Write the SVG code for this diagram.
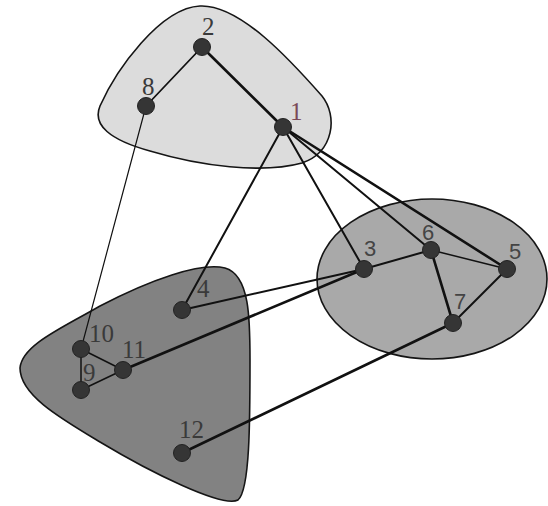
<svg xmlns="http://www.w3.org/2000/svg" width="548" height="506" viewBox="0 0 548 506">
<style>
.region{stroke:#151515;stroke-width:1.6}
.e{stroke:#111;fill:none;stroke-linecap:round}
.n circle{fill:#353535;stroke:#222;stroke-width:1}
.ls{font-family:"Liberation Serif",serif;font-size:25px;fill:#3a3a3a}
.la{font-family:"Liberation Sans",sans-serif;font-size:22px;fill:#444}
</style>
<rect width="548" height="506" fill="#ffffff"/>
<g id="regions">
<path id="region-top" class="region" fill="#dcdcdc" d="M 200,6 C 240,4 292,62 322,96 C 338,116 334,152 302,163 C 262,174 200,166 150,151 C 110,140 92,125 100,106 C 116,70 160,8 200,6 Z"/>
<ellipse id="region-right" class="region" fill="#a9a9a9" cx="432" cy="279" rx="115" ry="80"/>
<path id="region-bottom" class="region" fill="#828282" d="M 20,368 C 22,345 62,328 100,306 C 150,280 200,262 225,268 C 250,275 250,320 250,360 C 250,420 250,490 238,500 C 222,508 150,472 100,442 C 60,418 20,395 20,368 Z"/>
</g>
<g id="connectors">
<line class="e" x1="202" y1="47" x2="283" y2="127" stroke-width="2.6"/>
<line class="e" x1="202" y1="47" x2="146" y2="106" stroke-width="1.8"/>
<line class="e" x1="146" y1="106" x2="81" y2="349" stroke-width="1.2"/>
<line class="e" x1="283" y1="127" x2="182" y2="310" stroke-width="2"/>
<line class="e" x1="283" y1="127" x2="364" y2="269" stroke-width="2"/>
<line class="e" x1="283" y1="127" x2="431" y2="250" stroke-width="2"/>
<line class="e" x1="283" y1="127" x2="507" y2="269" stroke-width="2.6"/>
<line class="e" x1="364" y1="269" x2="431" y2="250" stroke-width="2"/>
<line class="e" x1="431" y1="250" x2="507" y2="269" stroke-width="1.5"/>
<line class="e" x1="431" y1="250" x2="453" y2="323" stroke-width="2.6"/>
<line class="e" x1="453" y1="323" x2="507" y2="269" stroke-width="2"/>
<line class="e" x1="364" y1="269" x2="182" y2="310" stroke-width="2"/>
<line class="e" x1="364" y1="269" x2="123" y2="370" stroke-width="2.6"/>
<line class="e" x1="453" y1="323" x2="182" y2="453" stroke-width="2.6"/>
<line class="e" x1="81" y1="349" x2="123" y2="370" stroke-width="1.5"/>
<line class="e" x1="81" y1="349" x2="81" y2="390" stroke-width="1.5"/>
<line class="e" x1="81" y1="390" x2="123" y2="370" stroke-width="1.5"/>
</g>
<g id="node-1" class="n"><circle cx="283" cy="127" r="8.5"/><text class="ls" x="290" y="120" style="fill:#7a4a58">1</text></g>
<g id="node-2" class="n"><circle cx="202" cy="47" r="8.5"/><text class="ls" x="202" y="35">2</text></g>
<g id="node-3" class="n"><circle cx="364" cy="269" r="8.5"/><text class="la" x="364" y="256">3</text></g>
<g id="node-4" class="n"><circle cx="182" cy="310" r="8.5"/><text class="ls" x="197" y="297">4</text></g>
<g id="node-5" class="n"><circle cx="507" cy="269" r="8.5"/><text class="la" x="509" y="259">5</text></g>
<g id="node-6" class="n"><circle cx="431" cy="250" r="8.5"/><text class="la" x="422" y="240">6</text></g>
<g id="node-7" class="n"><circle cx="453" cy="323" r="8.5"/><text class="la" x="454" y="309">7</text></g>
<g id="node-8" class="n"><circle cx="146" cy="106" r="8.5"/><text class="ls" x="142" y="95">8</text></g>
<g id="node-9" class="n"><circle cx="81" cy="390" r="8.5"/><text class="ls" x="83" y="381">9</text></g>
<g id="node-10" class="n"><circle cx="81" cy="349" r="8.5"/><text class="ls" x="89" y="342">10</text></g>
<g id="node-11" class="n"><circle cx="123" cy="370" r="8.5"/><text class="ls" x="122" y="358">11</text></g>
<g id="node-12" class="n"><circle cx="182" cy="453" r="8.5"/><text class="ls" x="179" y="438">12</text></g>
</svg>
